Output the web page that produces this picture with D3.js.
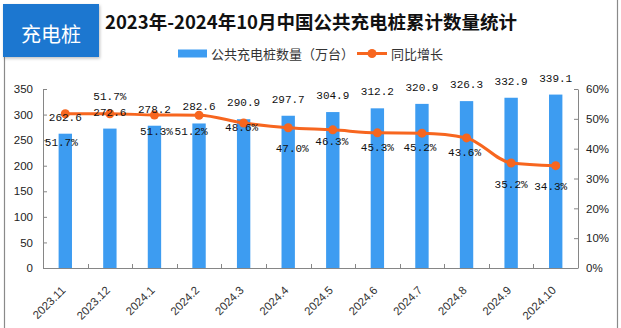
<!DOCTYPE html>
<html><head><meta charset="utf-8">
<script src="https://cdn.jsdelivr.net/npm/d3@7"></script>
<style>
html,body{margin:0;padding:0;background:#fff;}
svg{display:block;}
</style>
</head><body>
<svg id="c" width="621" height="328"></svg>
<script>
const categories = ["2023.11","2023.12","2024.1","2024.2","2024.3","2024.4","2024.5","2024.6","2024.7","2024.8","2024.9","2024.10"];
const piles = [262.6,272.6,278.2,282.6,290.9,297.7,304.9,312.2,320.9,326.3,332.9,339.1];
const growth = [51.7,51.7,51.3,51.2,48.6,47.0,46.3,45.3,45.2,43.6,35.2,34.3];
const leftTicks = [0,50,100,150,200,250,300,350];
const rightTicks = [0,10,20,30,40,50,60];
// label nudges (layout only)
const pctDx = [-4,0,2,-8,-2,4,-1,0,-2,-2,0,-5];
const pctDy = [29,-17,17,16.5,5,21,12,15,15,15,22,21];

const svg = d3.select("#c");
const L = 43, R = 578, T = 89, B = 268;
const axisColor = "#868686";
const barColor = "#3D9CF1";
const lineColor = "#F7661F";
const monoFont = "'Liberation Mono','DejaVu Sans Mono',monospace";
const cjk = "'Noto Sans CJK SC','Noto Sans',sans-serif";

// frame
svg.append("line").attr("x1",4.5).attr("x2",4.5).attr("y1",57).attr("y2",328).attr("stroke","#8a8a8a").attr("stroke-width",1.2);
svg.append("line").attr("x1",617.5).attr("x2",617.5).attr("y1",0).attr("y2",328).attr("stroke","#8a8a8a").attr("stroke-width",1.2);

// badge
const defs = svg.append("defs");
const f = defs.append("filter").attr("id","sh").attr("x","-10%").attr("y","-10%").attr("width","130%").attr("height","140%");
f.append("feDropShadow").attr("dx",1).attr("dy",1.5).attr("stdDeviation",1.5).attr("flood-color","#000").attr("flood-opacity",0.25);
svg.append("rect").attr("x",3).attr("y",4).attr("width",96).attr("height",53).attr("fill","#1E77D0").attr("filter","url(#sh)");
svg.append("text").attr("x",51).attr("y",33).attr("text-anchor","middle").attr("dominant-baseline","central")
  .attr("fill","#fff").attr("font-family",cjk).attr("font-size",20).text("充电桩");

// title
svg.append("text").attr("x",105).attr("y",21).attr("dominant-baseline","central")
  .attr("fill","#111").attr("font-family",cjk).attr("font-weight","bold").attr("font-size",18.5)
  .text("2023年-2024年10月中国公共充电桩累计数量统计");

// legend
svg.append("rect").attr("x",178).attr("y",49.5).attr("width",29).attr("height",8).attr("fill",barColor);
svg.append("text").attr("x",211).attr("y",53.5).attr("dominant-baseline","central").attr("fill","#333")
  .attr("font-family",cjk).attr("font-size",13).text("公共充电桩数量（万台）");
svg.append("line").attr("x1",357).attr("x2",387).attr("y1",53.5).attr("y2",53.5).attr("stroke",lineColor).attr("stroke-width",3);
svg.append("circle").attr("cx",372).attr("cy",53.5).attr("r",4.5).attr("fill",lineColor);
svg.append("text").attr("x",391).attr("y",53.5).attr("dominant-baseline","central").attr("fill","#333")
  .attr("font-family",cjk).attr("font-size",13).text("同比增长");

// scales
const x = d3.scaleBand().domain(categories).range([L,R]).padding(0);
const yL = d3.scaleLinear().domain([0,350]).range([B,T]);
const yR = d3.scaleLinear().domain([0,60]).range([B,T]);
const bw = x.bandwidth()*0.3;

// bars
svg.append("g").selectAll("rect").data(piles).join("rect")
  .attr("x",(d,i)=>x(categories[i])+x.bandwidth()/2-bw/2)
  .attr("y",d=>yL(d)).attr("width",bw).attr("height",d=>B-yL(d)).attr("fill",barColor);

// axes
const gl = svg.append("g").attr("transform",`translate(${L},0)`)
  .call(d3.axisLeft(yL).tickValues(leftTicks).tickSize(-4).tickSizeOuter(0).tickPadding(10));
const gr = svg.append("g").attr("transform",`translate(${R},0)`)
  .call(d3.axisRight(yR).tickValues(rightTicks).tickSize(-4).tickSizeOuter(0).tickPadding(8).tickFormat(d=>d+"%"));
[gl,gr].forEach(g=>{
  g.selectAll("path,line").attr("stroke",axisColor);
  g.selectAll("text").attr("fill","#222").attr("font-family","'Liberation Sans',Arial,sans-serif").attr("font-size",11.5);
});
// bottom axis
svg.append("line").attr("x1",L).attr("x2",R).attr("y1",B+0.5).attr("y2",B+0.5).attr("stroke",axisColor);
svg.append("g").selectAll("line").data(categories.slice(1)).join("line")
  .attr("x1",d=>Math.round(x(d))+0.5).attr("x2",d=>Math.round(x(d))+0.5).attr("y1",B).attr("y2",B-4).attr("stroke",axisColor);
svg.append("g").selectAll("text").data(categories).join("text")
  .attr("transform",d=>`translate(${x(d)+x.bandwidth()/2+1},${B+23}) rotate(-45)`)
  .attr("text-anchor","end").attr("fill","#333").attr("font-family","'Liberation Sans',Arial,sans-serif")
  .attr("font-size",11.5).text(d=>d);

// line
const cx = i => x(categories[i])+x.bandwidth()/2;
const line = d3.line().x((d,i)=>cx(i)).y(d=>yR(d)).curve(d3.curveMonotoneX);
svg.append("path").datum(growth).attr("d",line).attr("fill","none").attr("stroke",lineColor).attr("stroke-width",3);
svg.append("g").selectAll("circle").data(growth).join("circle")
  .attr("cx",(d,i)=>cx(i)).attr("cy",d=>yR(d)).attr("r",4.5).attr("fill",lineColor);

// value labels
svg.append("g").selectAll("text").data(piles).join("text")
  .attr("x",(d,i)=>cx(i)).attr("y",d=>yL(d)-16).attr("text-anchor","middle").attr("dominant-baseline","central")
  .attr("fill","#111").attr("font-family",monoFont).attr("font-size",11).text(d=>d.toFixed(1));
svg.append("g").selectAll("text").data(growth).join("text")
  .attr("x",(d,i)=>cx(i)+pctDx[i]).attr("y",(d,i)=>yR(d)+pctDy[i]).attr("text-anchor","middle").attr("dominant-baseline","central")
  .attr("fill","#111").attr("font-family",monoFont).attr("font-size",11).text(d=>d.toFixed(1)+"%");
</script>
</body></html>
